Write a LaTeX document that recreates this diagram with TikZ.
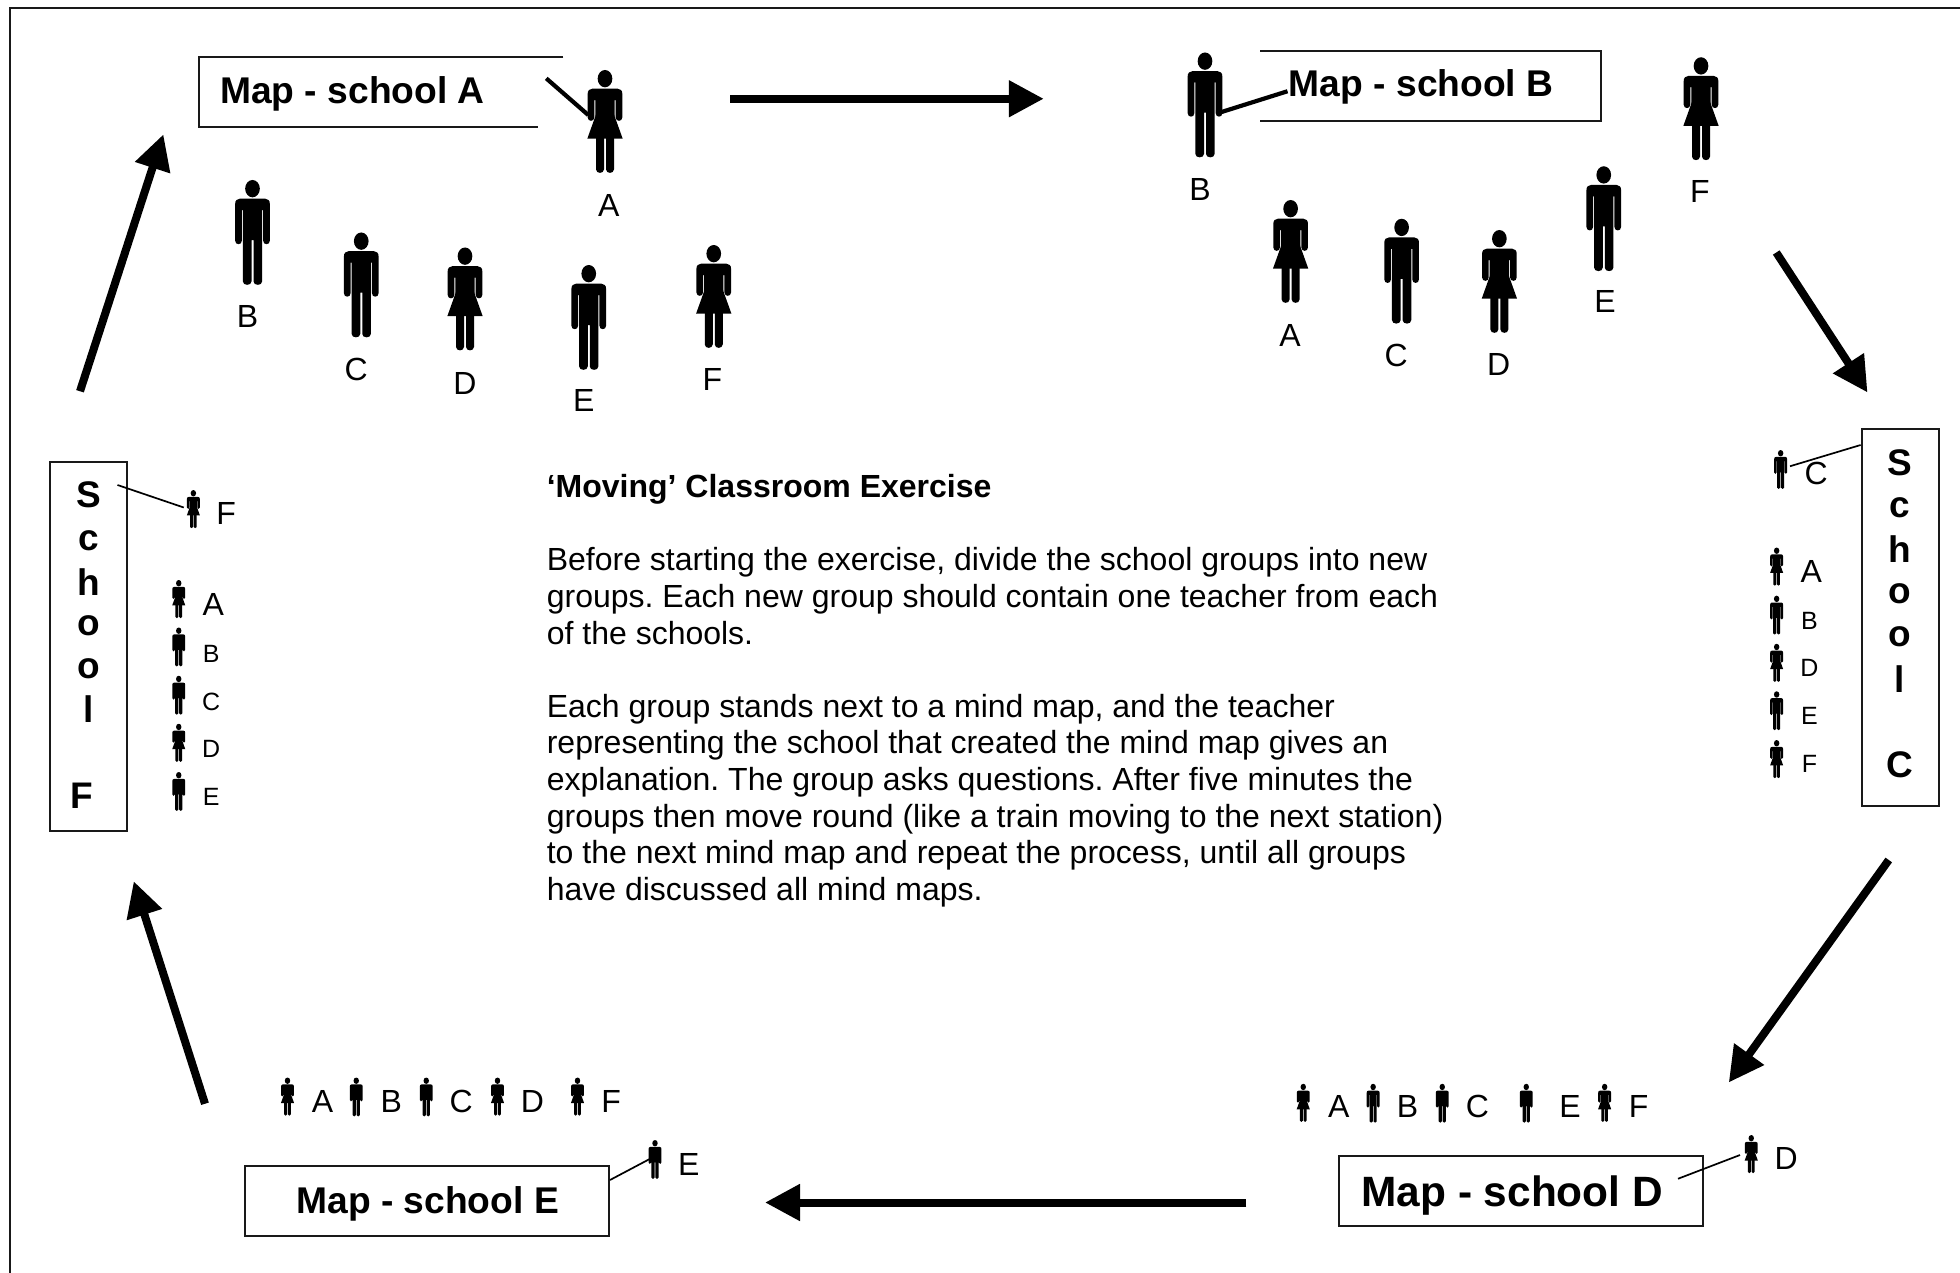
\documentclass[tikz,border=0pt]{standalone}
\usepackage{fontspec}
\setmainfont{Liberation Sans}
\usetikzlibrary{arrows.meta}
\tikzset{
  x=1.25pt,y=-1.25pt,
  big/.style={scale=.2667},
  small/.style={scale=.099},
  lab/.style={inner sep=0pt,yshift=-.6pt,font=\fontsize{32}{36}\selectfont},
  slab/.style={inner sep=0pt,yshift=-.6pt,font=\fontsize{25}{30}\selectfont},
  boxline/.style={line width=2pt,draw=black!90},
  mapA/.style={inner sep=0pt,anchor=base west,font=\fontsize{37.2}{40}\selectfont\bfseries},
  mapD/.style={inner sep=0pt,anchor=base west,font=\fontsize{42.4}{46}\selectfont\bfseries},
  letter/.style={inner sep=0pt,font=\fontsize{37}{40}\selectfont\bfseries},
  flow/.style={line width=8pt,-{Triangle[length=35pt,width=35pt]}},
  thinptr/.style={line width=1.7pt},
  thickptr/.style={line width=4.2pt},
  para/.style={inner sep=0pt,anchor=north west,align=left,font=\fontsize{32}{36.7}\selectfont\frenchspacing},
  pics/man/.style={code={
    \fill (0,26) ellipse [x radius=22,y radius=26];
    \fill (-38,56) .. controls (-47,56) and (-52,62) .. (-52,72) -- (-52,182)
      .. controls (-52,196) and (-32,196) .. (-32,182) -- (-32,90) -- (-29,90) -- (-29,304)
      .. controls (-29,318) and (-3,318) .. (-3,304) -- (-3,180) -- (3,180) -- (3,304)
      .. controls (3,318) and (29,318) .. (29,304) -- (29,90) -- (32,90) -- (32,182)
      .. controls (32,196) and (52,196) .. (52,182) -- (52,72)
      .. controls (52,62) and (47,56) .. (38,56) -- cycle;
  }},
  pics/woman/.style={code={
    \fill (0,26) ellipse [x radius=22,y radius=26];
    \fill (-38,56) .. controls (-47,56) and (-52,62) .. (-52,72) -- (-52,142)
      .. controls (-52,156) and (-32,156) .. (-32,142) -- (-32,90) -- (-29,90) -- (-29,140)
      -- (29,140) -- (29,90) -- (32,90) -- (32,142)
      .. controls (32,156) and (52,156) .. (52,142) -- (52,72)
      .. controls (52,62) and (47,56) .. (38,56) -- cycle;
    \fill (-24,125) -- (-53,206) -- (53,206) -- (24,125) -- cycle;
    \fill (-27,200) -- (-27,298) .. controls (-27,312) and (-3,312) .. (-3,298) -- (-3,200) -- cycle;
    \fill (3,200) -- (3,298) .. controls (3,312) and (27,312) .. (27,298) -- (27,200) -- cycle;
  }},
}
\begin{document}
\begin{tikzpicture}
\useasboundingbox (0,0) rectangle (1568,1018.4);
% frame (top and left only)
\draw[boxline] (1568,6.7) -- (8,6.7) -- (8,1018.4);

% --- Map A
\coordinate (aTR) at (450.7,45.9); \coordinate (aBR) at (430,101.9);
\draw[boxline] (aTR) -- (159,45.9) -- (159,101.9) -- (aBR);
\node[mapA] (mapa) at (176,83.2) {Map - school A};
\coordinate (pa1) at (437,62.7); \coordinate (pa2) at (470.6,92);
\draw[thickptr] (pa1) -- (pa2);
\pic[big] at (484,56) {woman};
\node[lab] (a1) at (487,164) {A};
\pic[big] at (202,144) {man};   \node[lab] (b1) at (198,253) {B};
\pic[big] at (289,186) {man};   \node[lab] (c1) at (285,295) {C};
\pic[big] at (372,198) {woman}; \node[lab] (d1) at (372,306) {D};
\pic[big] at (471,212) {man};   \node[lab] (e1) at (467,320) {E};
\pic[big] at (571,196) {woman}; \node[lab] (f1) at (570,303) {F};

% --- Map B
\coordinate (bTL) at (1008,40.8); \coordinate (bBL) at (1008,96.5);
\draw[boxline] (bTL) -- (1281,40.8) -- (1281,96.5) -- (bBL);
\node[mapA] (mapb) at (1031,77.3) {Map - school B};
\coordinate (pb1) at (976,90); \coordinate (pb2) at (1030,73);
\draw[thickptr] (pb1) -- (pb2);
\pic[big] at (964,42) {man};     \node[lab] (b2) at (960,151) {B};
\pic[big] at (1032.5,160) {woman}; \node[lab] (a2) at (1032,268) {A};
\pic[big] at (1121.3,175) {man}; \node[lab] (c2) at (1117,284) {C};
\pic[big] at (1199.5,184) {woman}; \node[lab] (d2) at (1199,291) {D};
\pic[big] at (1283,133) {man};   \node[lab] (e2) at (1284,241) {E};
\pic[big] at (1360.8,45.8) {woman}; \node[lab] (f2) at (1360,153) {F};

% --- School C
\draw[boxline] (1489.5,343.5) rectangle (1551,645);
\node[letter] (cs) at (1520,370) {S};
\node[letter] (cc) at (1520,406) {c};
\node[letter] (ch) at (1520,439) {h};
\node[letter] (co) at (1520,475) {o};
\node[letter] (co2) at (1520,509) {o};
\node[letter] (cl) at (1520,543) {l};
\node[letter] (cC) at (1520,612) {C};
\coordinate (pc1) at (1432,373); \coordinate (pc2) at (1488.5,356);
\draw[thinptr] (pc1) -- (pc2);
\pic[small] at (1424.5,360) {man};   \node[lab] (c3) at (1453,378) {C};
\pic[small] at (1421.3,438) {woman}; \node[lab] (a3) at (1449,456.5) {A};
\pic[small] at (1421.3,476.5) {man}; \node[slab] (b3) at (1447.5,496) {B};
\pic[small] at (1421.3,515) {woman}; \node[slab] (d3) at (1447.5,534) {D};
\pic[small] at (1421.3,553) {man};   \node[slab] (e3) at (1447.5,572) {E};
\pic[small] at (1421.3,592) {woman}; \node[slab] (f3) at (1447.5,611) {F};

% --- School F
\draw[boxline] (40,369.3) rectangle (101.6,665);
\node[letter] (fs) at (70.7,395.6) {S};
\node[letter] (fc) at (70.7,432.5) {c};
\node[letter] (fh) at (70.7,465.5) {h};
\node[letter] (fo) at (70.7,500.5) {o};
\node[letter] (fo2) at (70.7,535) {o};
\node[letter] (fl) at (70.7,567.5) {l};
\node[letter] (fF) at (65.3,637) {F};
\coordinate (pf1) at (94,388); \coordinate (pf2) at (147,406);
\draw[thinptr] (pf1) -- (pf2);
\pic[small] at (154.7,392) {woman}; \node[lab] (f4) at (181,410) {F};
\pic[small] at (143,464) {woman};   \node[lab] (a4) at (170.7,483) {A};
\pic[small] at (143,502) {man};     \node[slab] (b4) at (169,522.7) {B};
\pic[small] at (143,540.6) {man};   \node[slab] (c4) at (169,560.8) {C};
\pic[small] at (143,579) {woman};   \node[slab] (d4) at (169,598.7) {D};
\pic[small] at (143,617.6) {man};   \node[slab] (e4) at (169,637) {E};

% --- Map D
\draw[boxline] (1071,925) rectangle (1362,981);
\node[mapD] (mapd) at (1089,965.3) {Map - school D};
\coordinate (pd1) at (1342.4,943); \coordinate (pd2) at (1392,924);
\draw[thinptr] (pd1) -- (pd2);
\pic[small] at (1042.6,867) {woman}; \node[lab] (a5) at (1071,885) {A};
\pic[small] at (1098.5,867) {man};   \node[lab] (b5) at (1126,885) {B};
\pic[small] at (1153.8,867) {man};   \node[lab] (c5) at (1182,885) {C};
\pic[small] at (1221,867) {man};     \node[lab] (e5) at (1256,885) {E};
\pic[small] at (1283.7,867) {woman}; \node[lab] (f5) at (1311,885) {F};
\pic[small] at (1401,908) {woman};   \node[lab] (d5) at (1429,926) {D};

% --- Map E
\draw[boxline] (196,933) rectangle (487,989);
\node[mapA] (mape) at (237,971) {Map - school E};
\coordinate (pe1) at (488,944); \coordinate (pe2) at (522,926);
\draw[thinptr] (pe1) -- (pe2);
\pic[small] at (230,862) {woman}; \node[lab] (a6) at (258,881) {A};
\pic[small] at (285,862) {man};   \node[lab] (b6) at (313,881) {B};
\pic[small] at (341,862) {man};   \node[lab] (c6) at (369,881) {C};
\pic[small] at (398,862) {woman}; \node[lab] (d6) at (426,881) {D};
\pic[small] at (462,862) {woman}; \node[lab] (f6) at (489,881) {F};
\pic[small] at (524,912) {man};   \node[lab] (e6) at (551,931) {E};

% --- flow arrows
\coordinate (f1a) at (584,79);   \coordinate (f1b) at (835,79);
\coordinate (f2a) at (1421,202); \coordinate (f2b) at (1494,314);
\coordinate (f3a) at (1511,688); \coordinate (f3b) at (1383,866);
\coordinate (f4a) at (997,962);  \coordinate (f4b) at (612,962);
\coordinate (f5a) at (164,883);  \coordinate (f5b) at (107,705);
\coordinate (f6a) at (64,313);   \coordinate (f6b) at (130.7,107.5);
\draw[flow] (f1a) -- (f1b);
\draw[flow] (f2a) -- (f2b);
\draw[flow] (f3a) -- (f3b);
\draw[flow] (f4a) -- (f4b);
\draw[flow] (f5a) -- (f5b);
\draw[flow] (f6a) -- (f6b);

% --- text
\node[para,font=\fontsize{32}{36.7}\selectfont\bfseries] (title) at (437.3,379) {‘Moving’ Classroom Exercise};
\node[para] (p1) at (437.3,438) {Before starting the exercise, divide the school groups into new\\groups. Each new group should contain one teacher from each\\of the schools.};
\node[para] (p2) at (437.3,555) {Each group stands next to a mind map, and the teacher\\representing the school that created the mind map gives an\\explanation. The group asks questions. After five minutes the\\groups then move round (like a train moving to the next station)\\to the next mind map and repeat the process, until all groups\\have discussed all mind maps.};
\end{tikzpicture}
\end{document}
